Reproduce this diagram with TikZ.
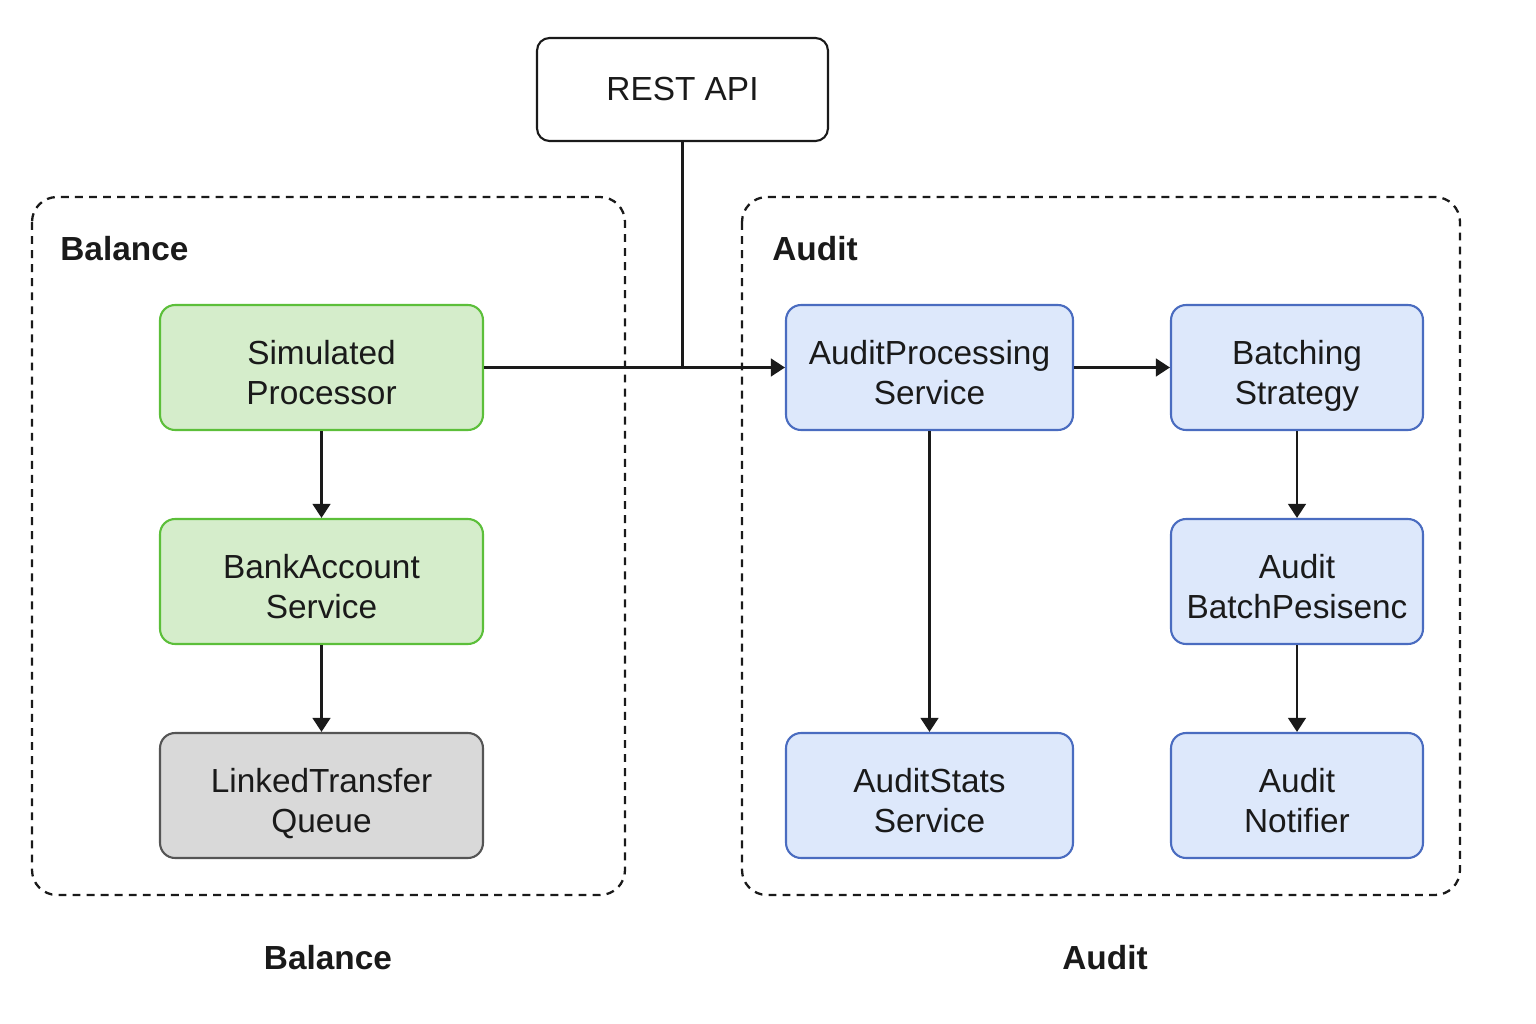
\documentclass[tikz,border=0pt]{standalone}
\usepackage{fontspec}
\setmainfont{Liberation Sans}
\usetikzlibrary{arrows.meta}
\definecolor{gfill}{HTML}{D5EDCB}
\definecolor{gdraw}{HTML}{5CBF3A}
\definecolor{bfill}{HTML}{DDE8FB}
\definecolor{bdraw}{HTML}{4A6CC0}
\definecolor{qfill}{HTML}{D9D9D9}
\definecolor{qdraw}{HTML}{555555}
\definecolor{ink}{HTML}{1A1A1A}
\tikzset{
  box/.style={rectangle, rounded corners=0.3cm, line width=1.2pt, align=center,
    font=\fontsize{19}{22.5}\selectfont, text=ink, inner sep=0pt,
    text height=42pt, text depth=0pt},
  gbox/.style={box, draw=gdraw, fill=gfill, minimum width=6.46cm, minimum height=2.5cm},
  qbox/.style={box, draw=qdraw, fill=qfill, minimum width=6.46cm, minimum height=2.5cm},
  bboxw/.style={box, draw=bdraw, fill=bfill, minimum width=5.74cm, minimum height=2.5cm},
  bboxn/.style={box, draw=bdraw, fill=bfill, minimum width=5.04cm, minimum height=2.5cm},
  apibox/.style={rectangle, draw=ink, fill=white, rounded corners=0.25cm, line width=1.2pt,
    font=\fontsize{19}{22.5}\selectfont, text=ink, inner sep=0pt,
    minimum width=5.82cm, minimum height=2.06cm},
  group/.style={draw=ink, line width=1.3pt, dash pattern=on 4.5pt off 3.5pt, rounded corners=0.5cm},
  title/.style={font=\fontsize{19}{22}\selectfont\bfseries, text=ink, inner sep=0pt},
  conn/.style={draw=ink, line width=1.5pt},
  arr/.style={conn, -{Triangle[length=8pt, width=10pt]}},
}
\begin{document}
\begin{tikzpicture}[x=0.02cm, y=-0.02cm]
\useasboundingbox (0,0) rectangle (1536,1024);
% groups
\draw[group] (32,197) rectangle (625,895);
\draw[group] (742,197) rectangle (1460,895);
\node[title, anchor=west] (tbal) at (60,249) {Balance};
\node[title, anchor=west] (taud) at (772,249) {Audit};
\node[title] (lbal) at (328,958) {Balance};
\node[title] (laud) at (1105,958) {Audit};
% nodes
\node[apibox] (api) at (682.5,89.5) {REST API};
\node[gbox] (sp) at (321.5,367.5) {Simulated\\Processor};
\node[gbox] (bank) at (321.5,581.5) {BankAccount\\Service};
\node[qbox] (queue) at (321.5,795.5) {LinkedTransfer\\Queue};
\node[bboxw] (aps) at (929.5,367.5) {AuditProcessing\\Service};
\node[bboxn] (batch) at (1297,367.5) {Batching\\Strategy};
\node[bboxn] (persist) at (1297,581.5) {Audit\\BatchPesisenc};
\node[bboxw] (stats) at (929.5,795.5) {AuditStats\\Service};
\node[bboxn] (notif) at (1297,795.5) {Audit\\Notifier};
\coordinate (join) at (api.south |- sp.east);
% connectors
\draw[arr] (sp.east) -- (aps.west);
\draw[conn] (api.south) -- (join);
\draw[arr] (sp) -- (bank);
\draw[arr] (bank) -- (queue);
\draw[arr] (aps) -- (batch);
\draw[arr] (aps) -- (stats);
\draw[arr] (batch) -- (persist);
\draw[arr] (persist) -- (notif);
\end{tikzpicture}
\end{document}
